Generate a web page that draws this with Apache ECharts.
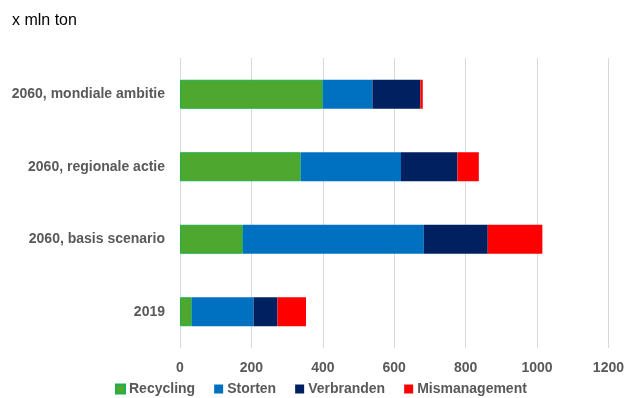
<!DOCTYPE html>
<html><head><meta charset="utf-8">
<script src="https://cdn.jsdelivr.net/npm/echarts@6/dist/echarts.min.js"></script>
<style>html,body{margin:0;padding:0;background:#fff}#c{width:627px;height:398px}</style>
</head><body><div id="c"></div>
<script>
const categories = ['2019', '2060, basis scenario', '2060, regionale actie', '2060, mondiale ambitie'];
const recycling = [33, 176, 338, 400];
const storten = [173, 507, 281, 139];
const verbranden = [67, 179, 158, 134];
const mismanagement = [80, 153, 60, 7];
const xTicks = [0, 200, 400, 600, 800, 1000, 1200];

const chart = echarts.init(document.getElementById('c'));
const font = 'Liberation Sans';
function s(name, data, color, border) {
  return {
    name, type: 'bar', stack: 't', data, barWidth: '40%',
    itemStyle: {color, borderColor: border || color, borderWidth: border ? 1 : 0},
    emphasis: {disabled: true}
  };
}
chart.setOption({
  animation: false,
  title: {text: 'x mln ton', left: 7, top: 8, textStyle: {fontFamily: font, fontSize: 16, fontWeight: 'normal', color: '#000'}},
  grid: {left: 180, right: 18, top: 58, bottom: 50, containLabel: false},
  legend: {
    top: 377, left: 110, itemWidth: 9, itemHeight: 9, itemGap: 19,
    icon: 'rect',
    textStyle: {fontFamily: font, fontSize: 14, fontWeight: 'bold', color: '#595959', padding: [0, 0, 0, -1]},
    data: ['Recycling', 'Storten', 'Verbranden', 'Mismanagement']
  },
  xAxis: {
    type: 'value', min: xTicks[0], max: xTicks[xTicks.length - 1], interval: 200,
    axisLine: {show: false}, axisTick: {show: false},
    splitLine: {lineStyle: {color: '#d9d9d9', width: 1}},
    axisLabel: {fontFamily: font, fontSize: 14, fontWeight: 'bold', color: '#595959', margin: 13, formatter: v => String(v)}
  },
  yAxis: {
    type: 'category', data: categories,
    axisLine: {show: false}, axisTick: {show: false},
    axisLabel: {fontFamily: font, fontSize: 14, fontWeight: 'bold', color: '#595959', margin: 15}
  },
  series: [
    s('Recycling', recycling, '#4ea72e', '#1fb04e'),
    s('Storten', storten, '#0070c0'),
    s('Verbranden', verbranden, '#002060'),
    s('Mismanagement', mismanagement, '#ff0000')
  ]
});
</script></body></html>
